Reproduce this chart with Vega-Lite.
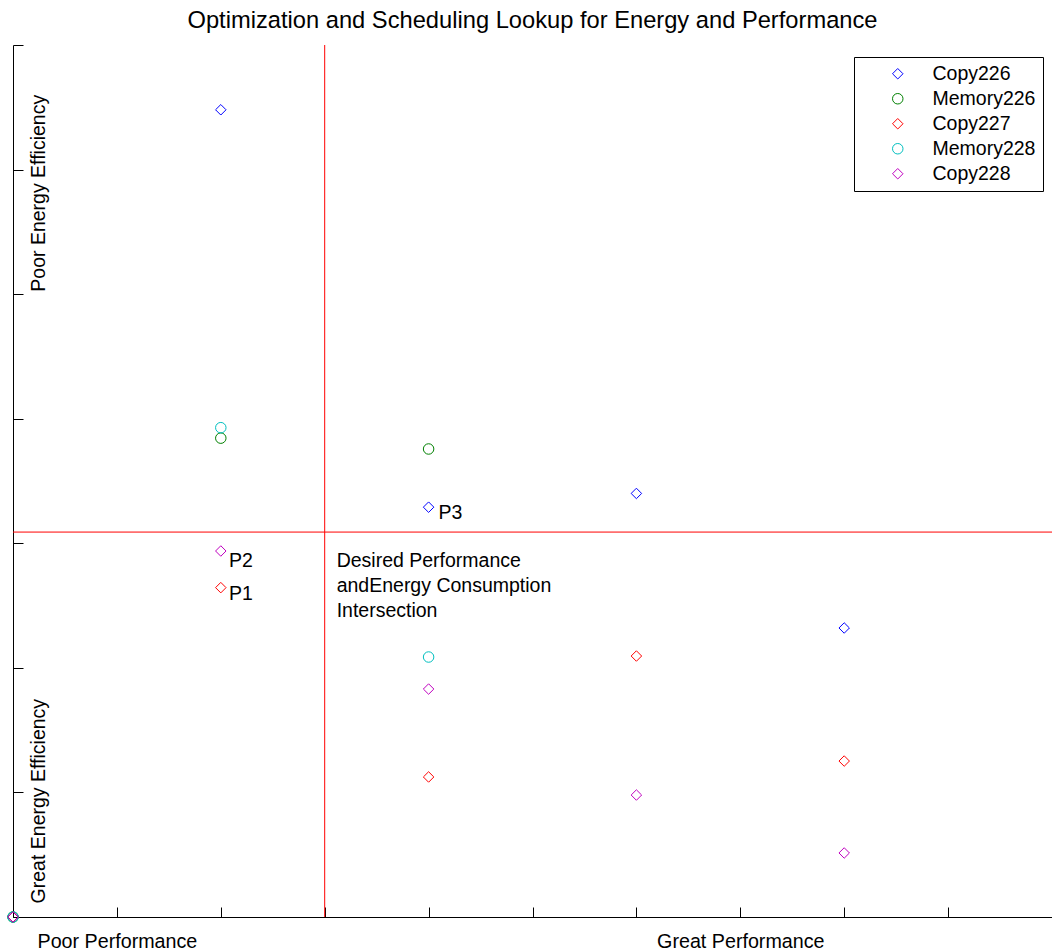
{
  "$schema": "https://vega.github.io/schema/vega-lite/v6.json",
  "width": 1039,
  "height": 872,
  "autosize": {"type": "none"},
  "padding": {"left": 13, "top": 45, "right": 0, "bottom": 34},
  "background": "white",
  "title": {
    "text": "Optimization and Scheduling Lookup for Energy and Performance",
    "font": "Liberation Sans",
    "fontSize": 23.7,
    "fontWeight": "normal",
    "color": "black",
    "offset": 12,
    "anchor": "middle"
  },
  "config": {
    "view": {"stroke": null},
    "axis": {"grid": false, "domainColor": "black", "tickColor": "black", "domainWidth": 1, "tickWidth": 1}
  },
  "datasets": {
    "points": [
      {"series": "Copy226", "perf": 2, "energy": 6.48},
      {"series": "Copy226", "perf": 4, "energy": 3.29},
      {"series": "Copy226", "perf": 6, "energy": 3.40},
      {"series": "Copy226", "perf": 8, "energy": 2.32},
      {"series": "Memory226", "perf": 2, "energy": 3.844},
      {"series": "Memory226", "perf": 4, "energy": 3.757},
      {"series": "Copy227", "perf": 2, "energy": 2.644},
      {"series": "Copy227", "perf": 4, "energy": 1.124},
      {"series": "Copy227", "perf": 6, "energy": 2.095},
      {"series": "Copy227", "perf": 8, "energy": 1.252},
      {"series": "Memory228", "perf": 2, "energy": 3.928},
      {"series": "Memory228", "perf": 4, "energy": 2.087},
      {"series": "Copy228", "perf": 2, "energy": 2.938},
      {"series": "Copy228", "perf": 4, "energy": 1.830},
      {"series": "Copy228", "perf": 6, "energy": 0.979},
      {"series": "Copy228", "perf": 8, "energy": 0.514},
      {"series": "Copy226", "perf": 0, "energy": 0},
      {"series": "Memory226", "perf": 0, "energy": 0},
      {"series": "Copy227", "perf": 0, "energy": 0},
      {"series": "Memory228", "perf": 0, "energy": 0},
      {"series": "Copy228", "perf": 0, "energy": 0}
    ],
    "vlines": [{"perf": 3}],
    "hlines": [{"energy": 3.09}],
    "plabels": [
      {"perf": 4.096, "energy": 3.24, "label": "P3"},
      {"perf": 2.08, "energy": 2.86, "label": "P2"},
      {"perf": 2.08, "energy": 2.59, "label": "P1"}
    ],
    "note": [
      {"perf": 3.115, "energy": 2.81, "label": "Desired Performance\nandEnergy Consumption\nIntersection"}
    ],
    "sidelabels": [
      {"perf": 0.308, "energy": 5.81, "label": "Poor Energy Efficiency"},
      {"perf": 0.308, "energy": 0.93, "label": "Great Energy Efficiency"}
    ]
  },
  "layer": [
    {
      "data": {"name": "vlines"},
      "mark": {"type": "rule", "color": "red", "strokeWidth": 1},
      "encoding": {
        "x": {"field": "perf", "type": "quantitative", "scale": {"domain": [0, 10], "nice": false, "zero": false},
          "axis": {
            "values": [0, 1, 2, 3, 4, 5, 6, 7, 8, 9, 10],
            "tickSize": -10,
            "labelExpr": "datum.value == 1 ? 'Poor Performance' : datum.value == 7 ? 'Great Performance' : ''",
            "labelFont": "Liberation Sans",
            "labelFontSize": 19.7,
            "labelColor": "black",
            "labelBaseline": "alphabetic",
            "labelPadding": 40,
            "labelFlush": false,
            "labelOverlap": false,
            "labelBound": false,
            "title": null
          }
        }
      }
    },
    {
      "data": {"name": "hlines"},
      "mark": {"type": "rule", "color": "red", "strokeWidth": 1},
      "encoding": {
        "y": {"field": "energy", "type": "quantitative", "scale": {"domain": [0, 7], "nice": false, "zero": false},
          "axis": {
            "values": [0, 1, 2, 3, 4, 5, 6, 7],
            "tickSize": -10,
            "labels": false,
            "title": null
          }
        }
      }
    },
    {
      "data": {"name": "points"},
      "mark": {"type": "point", "filled": false, "size": 110, "strokeWidth": 1, "opacity": 1},
      "encoding": {
        "x": {"field": "perf", "type": "quantitative"},
        "y": {"field": "energy", "type": "quantitative"},
        "color": {
          "field": "series", "type": "nominal",
          "scale": {"domain": ["Copy226", "Memory226", "Copy227", "Memory228", "Copy228"], "range": ["#0000ff", "#008000", "#ff0000", "#00bfbf", "#bf00bf"]},
          "legend": {
            "title": null,
            "orient": "none",
            "legendX": 841,
            "legendY": 12,
            "strokeColor": "black",
            "fillColor": "white",
            "padding": 7,
            "symbolSize": 110,
            "symbolStrokeWidth": 1,
            "symbolOffset": 27,
            "labelOffset": 25,
            "labelFont": "Liberation Sans",
            "labelFontSize": 19.5,
            "labelColor": "black",
            "rowPadding": 4
          }
        },
        "shape": {
          "field": "series", "type": "nominal",
          "scale": {"domain": ["Copy226", "Memory226", "Copy227", "Memory228", "Copy228"], "range": ["diamond", "circle", "diamond", "circle", "diamond"]}
        }
      }
    },
    {
      "data": {"name": "plabels"},
      "mark": {"type": "text", "font": "Liberation Sans", "fontSize": 19.5, "color": "black", "align": "left", "baseline": "middle"},
      "encoding": {
        "x": {"field": "perf", "type": "quantitative"},
        "y": {"field": "energy", "type": "quantitative"},
        "text": {"field": "label"}
      }
    },
    {
      "data": {"name": "note"},
      "mark": {"type": "text", "font": "Liberation Sans", "fontSize": 19.5, "color": "black", "align": "left", "baseline": "alphabetic", "lineBreak": "\n", "lineHeight": 25},
      "encoding": {
        "x": {"field": "perf", "type": "quantitative"},
        "y": {"field": "energy", "type": "quantitative"},
        "text": {"field": "label"}
      }
    },
    {
      "data": {"name": "sidelabels"},
      "mark": {"type": "text", "font": "Liberation Sans", "fontSize": 19.5, "color": "black", "align": "center", "baseline": "alphabetic", "angle": 270},
      "encoding": {
        "x": {"field": "perf", "type": "quantitative"},
        "y": {"field": "energy", "type": "quantitative"},
        "text": {"field": "label"}
      }
    }
  ]
}
